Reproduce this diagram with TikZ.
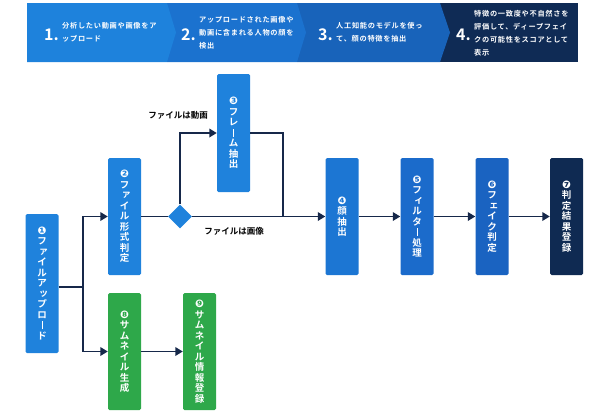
\documentclass[tikz,border=0pt]{standalone}
\usepackage{fontspec}
\setmainfont{Noto Sans CJK JP}[BoldFont={Noto Sans CJK JP Bold}]
\newfontfamily\jpls{Noto Sans CJK JP Bold}[LetterSpace=10]
\newfontfamily\dv{DejaVu Sans}
\usetikzlibrary{shapes.geometric,arrows.meta}
\definecolor{segA}{HTML}{1E82DC}
\definecolor{segB}{HTML}{1B72CF}
\definecolor{segC}{HTML}{1863BA}
\definecolor{segD}{HTML}{0F2B55}
\definecolor{bA}{HTML}{1F82DC}
\definecolor{bB}{HTML}{1C76D3}
\definecolor{bC}{HTML}{1B6BCB}
\definecolor{bD}{HTML}{1A63C1}
\definecolor{bE}{HTML}{0F2A52}
\definecolor{gr}{HTML}{2EA84A}
\definecolor{ln}{HTML}{16284A}
\newcommand\sk[1]{\makebox[0pt]{\hspace{3.5pt}\raisebox{1.2pt}{#1}}}
\newcommand\vb{\rule[-0.5pt]{1pt}{8pt}}
\newcommand\cn[1]{{\dv\fontsize{10.5}{11}\selectfont #1}}
\tikzset{
  boxnode/.style={rounded corners=1.5pt, minimum width=33pt, text=white,
    font=\bfseries\fontsize{9.5}{10.5}\selectfont, align=center, inner sep=0pt},
  big/.style={text=white, font=\bfseries\fontsize{16}{16}\selectfont, inner sep=0pt},
  btxt/.style={text=white, font=\jpls\fontsize{7.2}{13}\selectfont, align=left, inner sep=0pt, anchor=west},
  conn/.style={draw=ln, line width=1.8pt},
  arr/.style={conn, -{Triangle[length=7.5pt,width=8.5pt]}},
  lbl/.style={font=\bfseries\fontsize{8.5}{9}\selectfont, text=black, inner sep=0pt}
}
\begin{document}
\begin{tikzpicture}[x=1pt,y=-1pt]
\useasboundingbox (0,0) rectangle (604,413);
% banner
\fill[segD] (430,3) rectangle (578,62);
\fill[segC] (297,3) -- (440,3) -- (450,32.5) -- (440,62) -- (297,62) -- cycle;
\fill[segB] (167,3) -- (297,3) -- (306,32.5) -- (297,62) -- (167,62) -- cycle;
\fill[segA] (27,3) -- (167,3) -- (176,32.5) -- (167,62) -- (27,62) -- cycle;
\node[big, anchor=base west] (t1) at (44,40) {1.};
\node[btxt] (s1) at (62,32.5) {分析したい動画や画像をア\\ップロード};
\node[big, anchor=base west] (t2) at (181,40) {2.};
\node[btxt] (s2) at (199,33) {アップロードされた画像や\\動画に含まれる人物の顔を\\検出};
\node[big, anchor=base west] (t3) at (318,40) {3.};
\node[btxt] (s3) at (336,32.5) {人工知能のモデルを使っ\\て、顔の特徴を抽出};
\node[big, anchor=base west] (t4) at (456,40) {4.};
\node[btxt] (s4) at (474,33.5) {特徴の一致度や不自然さを\\評価して、ディープフェイ\\クの可能性をスコアとして\\表示};
% boxes
\node[boxnode, fill=bA, minimum height=139pt] (n1) at (42,283.5)
  {\cn{❶}\\フ\\\sk{ァ}\\イ\\ル\\ア\\\sk{ッ}\\プ\\ロ\\\vb\\ド};
\node[boxnode, fill=bA, minimum height=117pt] (n2) at (124.5,216.5)
  {\cn{❷}\\フ\\\sk{ァ}\\イ\\ル\\形\\式\\判\\定};
\node[boxnode, fill=bA, minimum height=118pt] (n3) at (233.5,133)
  {\cn{❸}\\フ\\レ\\\vb\\ム\\抽\\出};
\node[boxnode, fill=bB, minimum height=117pt] (n4) at (342,216.5)
  {\cn{❹}\\顔\\抽\\出};
\node[boxnode, fill=bC, minimum height=117pt] (n5) at (417,216.5)
  {\cn{❺}\\フ\\\sk{ィ}\\ル\\タ\\\vb\\処\\理};
\node[boxnode, fill=bD, minimum height=117pt] (n6) at (492,216.5)
  {\cn{❻}\\フ\\\sk{ェ}\\イ\\ク\\判\\定};
\node[boxnode, fill=bE, minimum height=117pt] (n7) at (566.5,216.5)
  {\cn{❼}\\判\\定\\結\\果\\登\\録};
\node[boxnode, fill=gr, minimum height=117pt] (n8) at (124.5,351.5)
  {\cn{❽}\\サ\\ム\\ネ\\イ\\ル\\生\\成};
\node[boxnode, fill=gr, minimum height=117pt] (n9) at (199.5,351.5)
  {\cn{❾}\\サ\\ム\\ネ\\イ\\ル\\情\\報\\登\\録};
% diamond
\node[diamond, fill=bA, minimum width=24pt, minimum height=24pt, inner sep=0pt] (d) at (180,216.5) {};
% connectors
\coordinate (j) at (83,287);
\coordinate (m) at (283,216.5);
\draw[conn] (n1.east |- j) -- (j);
\draw[arr] (j) |- (n2.west);
\draw[arr] (j) |- (n8.west);
\draw[conn] (n2.east) -- (d.west);
\draw[arr] (d.north) |- (n3.west);
\draw[conn] (n3.east) -| (m);
\draw[arr] (d.east) -- (n4.west);
\draw[arr] (n4.east) -- (n5.west);
\draw[arr] (n5.east) -- (n6.west);
\draw[arr] (n6.east) -- (n7.west);
\draw[arr] (n8.east) -- (n9.west);
% labels
\node[lbl] (l1) at (178,115) {ファイルは動画};
\node[lbl] (l2) at (234,231) {ファイルは画像};
\end{tikzpicture}
\end{document}
